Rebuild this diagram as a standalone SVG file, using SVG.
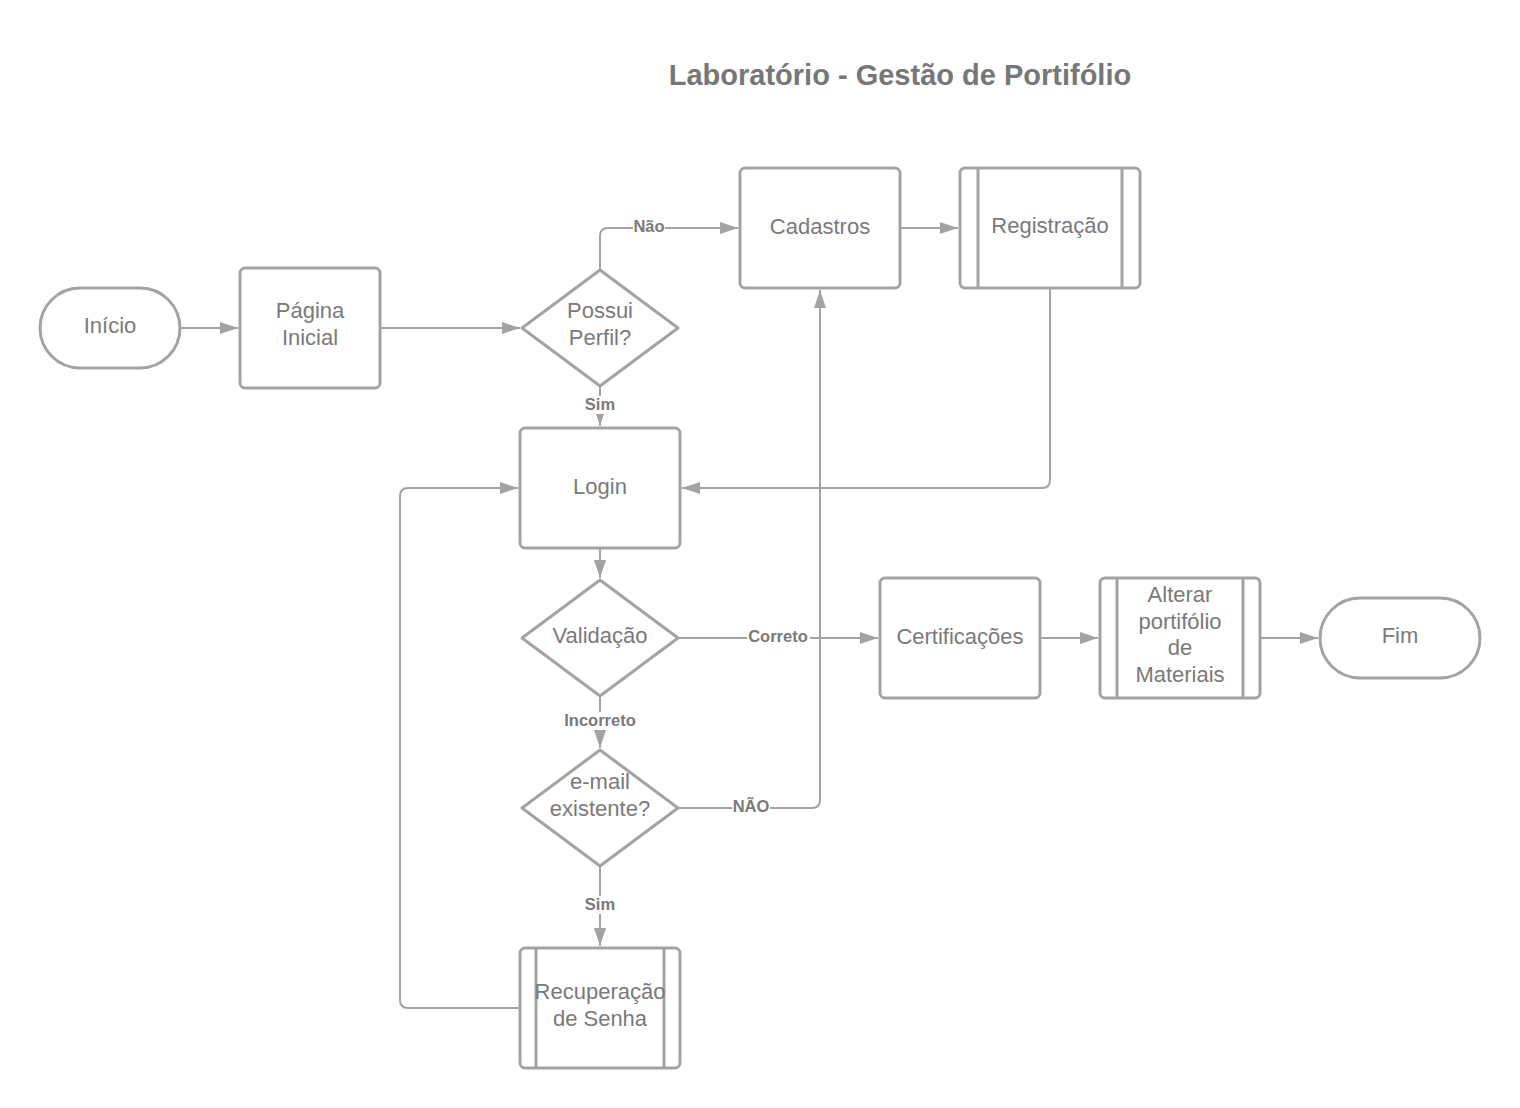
<svg xmlns="http://www.w3.org/2000/svg" width="1520" height="1108" viewBox="0 0 1520 1108">
<style>
.n{fill:#fff;stroke:#a3a3a3;stroke-width:3}
.s{fill:none;stroke:#a3a3a3;stroke-width:3}
.t{font-family:"Liberation Sans",Arial,sans-serif;font-size:22px;fill:#7a7a7a;text-anchor:middle}
.c{fill:none;stroke:#a3a3a3;stroke-width:2}
.l{font-family:"Liberation Sans",Arial,sans-serif;font-size:16.5px;font-weight:bold;fill:#7a7a7a;text-anchor:middle}
.lb{fill:#fff}
.title{font-family:"Liberation Sans",Arial,sans-serif;font-size:29px;font-weight:bold;fill:#777;text-anchor:middle}
</style>
<defs>
<marker id="a" viewBox="0 0 18 12" refX="18" refY="6" markerWidth="18" markerHeight="12" markerUnits="userSpaceOnUse" orient="auto">
<path d="M0,0 L18,6 L0,12 Z" fill="#a3a3a3"/>
</marker>
</defs>
<rect width="1520" height="1108" fill="#fff"/>
<text class="title" x="900" y="85">Laboratório - Gestão de Portifólio</text>

<g id="connectors">
<path class="c" d="M180,328 H238" marker-end="url(#a)"/>
<path class="c" d="M380,328 H520" marker-end="url(#a)"/>
<path class="c" d="M600,270 V236 Q600,228 608,228 H738" marker-end="url(#a)"/>
<path class="c" d="M600,386 V426" marker-end="url(#a)"/>
<path class="c" d="M900,228 H958" marker-end="url(#a)"/>
<path class="c" d="M1050,288 V480 Q1050,488 1042,488 H682" marker-end="url(#a)"/>
<path class="c" d="M600,548 V578" marker-end="url(#a)"/>
<path class="c" d="M678,638 H878" marker-end="url(#a)"/>
<path class="c" d="M600,696 V748" marker-end="url(#a)"/>
<path class="c" d="M678,808 H812 Q820,808 820,800 V290" marker-end="url(#a)"/>
<path class="c" d="M600,866 V946" marker-end="url(#a)"/>
<path class="c" d="M520,1008 H408 Q400,1008 400,1000 V496 Q400,488 408,488 H518" marker-end="url(#a)"/>
<path class="c" d="M1040,638 H1098" marker-end="url(#a)"/>
<path class="c" d="M1260,638 H1318" marker-end="url(#a)"/>
<rect class="lb" x="633" y="218" width="32" height="18"/>
<text class="l" x="649" y="232">Não</text>
<rect class="lb" x="585" y="396" width="30" height="18"/>
<text class="l" x="600" y="410">Sim</text>
<rect class="lb" x="747" y="628" width="63" height="18"/>
<text class="l" x="778" y="642">Correto</text>
<rect class="lb" x="562" y="712" width="76" height="18"/>
<text class="l" x="600" y="726">Incorreto</text>
<rect class="lb" x="732" y="798" width="38" height="18"/>
<text class="l" x="751" y="812">NÃO</text>
<rect class="lb" x="585" y="896" width="30" height="18"/>
<text class="l" x="600" y="910">Sim</text>
</g>

<g id="inicio">
<rect class="n" x="40" y="288" width="140" height="80" rx="40"/>
<text class="t" x="110" y="333">Início</text>
</g>
<g id="pagina-inicial">
<rect class="n" x="240" y="268" width="140" height="120" rx="5"/>
<text class="t" x="310" y="318">Página</text>
<text class="t" x="310" y="345">Inicial</text>
</g>
<g id="possui-perfil">
<path class="n" d="M600,270 L678,328 L600,386 L522,328 Z" stroke-linejoin="round"/>
<text class="t" x="600" y="318">Possui</text>
<text class="t" x="600" y="345">Perfil?</text>
</g>
<g id="cadastros">
<rect class="n" x="740" y="168" width="160" height="120" rx="5"/>
<text class="t" x="820" y="234">Cadastros</text>
</g>
<g id="registracao">
<rect class="n" x="960" y="168" width="180" height="120" rx="5"/>
<path class="s" d="M978,168 V288 M1122,168 V288"/>
<text class="t" x="1050" y="233">Registração</text>
</g>
<g id="login">
<rect class="n" x="520" y="428" width="160" height="120" rx="5"/>
<text class="t" x="600" y="494">Login</text>
</g>
<g id="validacao">
<path class="n" d="M600,580 L678,638 L600,696 L522,638 Z" stroke-linejoin="round"/>
<text class="t" x="600" y="643">Validação</text>
</g>
<g id="email-existente">
<path class="n" d="M600,750 L678,808 L600,866 L522,808 Z" stroke-linejoin="round"/>
<text class="t" x="600" y="789">e-mail</text>
<text class="t" x="600" y="816">existente?</text>
</g>
<g id="recuperacao">
<rect class="n" x="520" y="948" width="160" height="120" rx="5"/>
<path class="s" d="M536,948 V1068 M664,948 V1068"/>
<text class="t" x="600" y="999">Recuperação</text>
<text class="t" x="600" y="1026">de Senha</text>
</g>
<g id="certificacoes">
<rect class="n" x="880" y="578" width="160" height="120" rx="5"/>
<text class="t" x="960" y="644">Certificações</text>
</g>
<g id="alterar-portifolio">
<rect class="n" x="1100" y="578" width="160" height="120" rx="5"/>
<path class="s" d="M1117,578 V698 M1243,578 V698"/>
<text class="t" x="1180" y="602">Alterar</text>
<text class="t" x="1180" y="629">portifólio</text>
<text class="t" x="1180" y="655">de</text>
<text class="t" x="1180" y="682">Materiais</text>
</g>
<g id="fim">
<rect class="n" x="1320" y="598" width="160" height="80" rx="40"/>
<text class="t" x="1400" y="643">Fim</text>
</g>
</svg>
